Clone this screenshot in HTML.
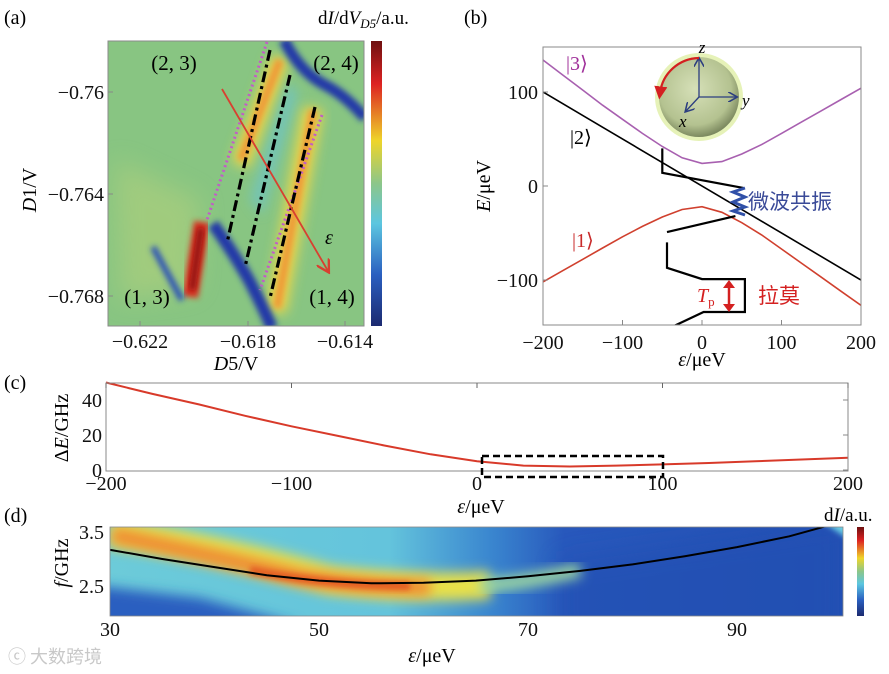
<!DOCTYPE html>
<html><head><meta charset="utf-8">
<style>
html,body{margin:0;padding:0;background:#fff;}
svg{display:block;font-family:"Liberation Serif","Noto Serif CJK SC",serif;}
.tk{font-size:20px;fill:#111;font-family:"Liberation Serif",serif;}
.ax{fill:none;stroke:#8a8a8a;stroke-width:1;}
</style></head>
<body>
<svg id="fig" width="889" height="674" viewBox="0 0 889 674" xmlns="http://www.w3.org/2000/svg">
<defs>
 <filter id="b3" x="-50%" y="-50%" width="200%" height="200%"><feGaussianBlur stdDeviation="3"/></filter>
 <filter id="b6" x="-50%" y="-50%" width="200%" height="200%"><feGaussianBlur stdDeviation="6"/></filter>
 <filter id="b12" x="-50%" y="-50%" width="200%" height="200%"><feGaussianBlur stdDeviation="12"/></filter>
 <clipPath id="clipA"><rect x="108" y="41" width="256" height="285"/></clipPath>
 <clipPath id="clipB"><rect x="543" y="47" width="318" height="278"/></clipPath>
 <clipPath id="clipD"><rect x="110" y="527" width="733" height="89"/></clipPath>
 <linearGradient id="jet" x1="0" y1="0" x2="0" y2="1">
  <stop offset="0" stop-color="#6e1010"/><stop offset="0.15" stop-color="#dd2222"/>
  <stop offset="0.35" stop-color="#eed52a"/><stop offset="0.5" stop-color="#8cc68a"/>
  <stop offset="0.64" stop-color="#5cc6e0"/><stop offset="0.82" stop-color="#2a5fc0"/>
  <stop offset="1" stop-color="#1c2a70"/>
 </linearGradient>
 <radialGradient id="sph" cx="0.45" cy="0.4" r="0.6">
  <stop offset="0" stop-color="#d6e0b8"/><stop offset="0.75" stop-color="#b4c290"/><stop offset="1" stop-color="#7d8a60"/>
 </radialGradient>
 <linearGradient id="dbg" x1="0" y1="0" x2="1" y2="0">
  <stop offset="0" stop-color="#6ccbd9"/><stop offset="0.38" stop-color="#64c4dc"/><stop offset="0.52" stop-color="#3a86cf"/><stop offset="0.62" stop-color="#2858bc"/><stop offset="1" stop-color="#2350b4"/>
 </linearGradient>
 <marker id="arrR" markerWidth="8" markerHeight="8" refX="6" refY="4" orient="auto"><path d="M0,0 L7,4 L0,8" fill="none" stroke="#d84030" stroke-width="1.3"/></marker>
 <marker id="arrN" markerWidth="8" markerHeight="8" refX="6" refY="4" orient="auto"><path d="M0,0 L7,4 L0,8" fill="none" stroke="#2c3e80" stroke-width="1.2"/></marker>
 <marker id="arrT" markerWidth="6" markerHeight="6" refX="3" refY="3" orient="auto"><path d="M0,0 L6,3 L0,6 Z" fill="#d42020"/></marker>
</defs>

<!-- ===== Panel (a) ===== -->
<text x="4" y="24" font-size="20">(a)</text>
<g clip-path="url(#clipA)">
 <rect x="108" y="41" width="256" height="285" fill="#88c582"/>
 <path d="M115,160 L200,200 L195,290 L120,300 Z" fill="#b8d27a" opacity="0.5" filter="url(#b12)"/>
 <path d="M287,80 L250,200 L262,215 L298,95 Z" fill="#6cc4cc" opacity="0.7" filter="url(#b6)"/>
 <path d="M280,58 L240,165" stroke="#ecd84a" stroke-width="18" fill="none" filter="url(#b6)"/>
 <path d="M280,60 L241,160" stroke="#ee9a38" stroke-width="8" fill="none" filter="url(#b3)"/>
 <path d="M313,108 L276,312" stroke="#ecd84a" stroke-width="20" fill="none" filter="url(#b6)"/>
 <path d="M313,110 L277,308" stroke="#ee9a38" stroke-width="8" fill="none" filter="url(#b3)"/>
 <path d="M284,40 Q300,72 325,85 Q345,95 365,118" stroke="#2438a8" stroke-width="11" fill="none" filter="url(#b3)"/>
 <path d="M213,224 Q235,255 250,282 Q262,305 272,328" stroke="#2438a8" stroke-width="12" fill="none" filter="url(#b3)"/>
 <path d="M202,222 L190,297" stroke="#d83020" stroke-width="16" fill="none" filter="url(#b3)"/>
 <path d="M201,228 L192,290" stroke="#8a1010" stroke-width="6" fill="none" filter="url(#b3)"/>
 <path d="M153,247 L182,300" stroke="#2a50b8" stroke-width="6" fill="none" filter="url(#b3)"/>
 <line x1="267" y1="42" x2="207" y2="220" stroke="#c25cc8" stroke-width="3" stroke-dasharray="2,3"/>
 <line x1="322" y1="115" x2="260" y2="290" stroke="#c25cc8" stroke-width="3" stroke-dasharray="2,3"/>
 <g stroke="#000" stroke-width="3.2" stroke-dasharray="11,4,3,4" fill="none">
  <line x1="270" y1="50" x2="227" y2="243"/>
  <line x1="290" y1="75" x2="245" y2="267"/>
  <line x1="315" y1="107" x2="270" y2="298"/>
 </g>
 <line x1="222" y1="89" x2="328" y2="271" stroke="#d84030" stroke-width="1.8" marker-end="url(#arrR)"/>
</g>
<rect x="108" y="41" width="256" height="285" class="ax"/>
<text x="325" y="244" font-size="20" font-style="italic">ε</text>
<g font-size="21" text-anchor="middle">
 <text x="174" y="70">(2, 3)</text><text x="336" y="70">(2, 4)</text>
 <text x="147" y="304">(1, 3)</text><text x="332" y="304">(1, 4)</text>
</g>
<g class="tk" text-anchor="end">
 <text x="104" y="99">−0.76</text><text x="104" y="201">−0.764</text><text x="104" y="303">−0.768</text>
</g>
<g class="tk" text-anchor="middle">
 <text x="140" y="348">−0.622</text><text x="248" y="348">−0.618</text><text x="345" y="348">−0.614</text>
</g>
<g stroke="#888" stroke-width="1">
 <line x1="140" y1="326" x2="140" y2="321"/><line x1="248" y1="326" x2="248" y2="321"/><line x1="345" y1="326" x2="345" y2="321"/>
 <line x1="108" y1="92" x2="113" y2="92"/><line x1="108" y1="194" x2="113" y2="194"/><line x1="108" y1="296" x2="113" y2="296"/>
</g>
<text x="236" y="370" font-size="20" text-anchor="middle"><tspan font-style="italic">D</tspan>5/V</text>
<text transform="translate(36,190) rotate(-90)" font-size="20" text-anchor="middle"><tspan font-style="italic">D</tspan>1/V</text>
<rect x="371" y="41" width="11" height="285" fill="url(#jet)"/>
<text x="318" y="24" font-size="19">d<tspan font-style="italic">I</tspan>/d<tspan font-style="italic">V</tspan><tspan font-style="italic" font-size="13" dy="4">D5</tspan><tspan dy="-4">/a.u.</tspan></text>

<!-- ===== Panel (b) ===== -->
<text x="464" y="24" font-size="20">(b)</text>
<g id="bCurves" clip-path="url(#clipB)"></g>
<rect x="543" y="47" width="318" height="278" class="ax"/>
<g id="bTicks"></g>
<text x="702" y="366" font-size="20" text-anchor="middle"><tspan font-style="italic">ε</tspan>/μeV</text>
<text transform="translate(490,186) rotate(-90)" font-size="20" text-anchor="middle"><tspan font-style="italic">E</tspan>/μeV</text>
<text x="566" y="70" font-size="20" fill="#a0309a">|3⟩</text>
<text x="570" y="144" font-size="20" fill="#000">|2⟩</text>
<text x="572" y="247" font-size="20" fill="#c82a2a">|1⟩</text>
<g>
 <circle cx="699" cy="97" r="44" fill="#e6f2b8"/>
 <circle cx="699" cy="97" r="40" fill="url(#sph)"/>
 <g stroke="#2c3e80" stroke-width="1.3" fill="none">
  <line x1="699" y1="97" x2="699" y2="59" marker-end="url(#arrN)"/>
  <line x1="699" y1="97" x2="736" y2="97" marker-end="url(#arrN)"/>
  <line x1="699" y1="97" x2="686" y2="111" marker-end="url(#arrN)"/>
 </g>
 <path d="M699,58 A40,40 0 0 0 660,93" stroke="#d42020" stroke-width="2.2" fill="none" marker-end="url(#arrT)"/>
 <text x="702" y="53" font-size="17" font-style="italic" text-anchor="middle">z</text>
 <text x="742" y="106" font-size="17" font-style="italic">y</text>
 <text x="679" y="127" font-size="17" font-style="italic">x</text>
</g>
<path d="M745,188 L733,192 L745,197 L733,202 L745,207 L733,211 L745,215" stroke="#3050a8" stroke-width="3" fill="none"/>
<text x="748" y="209" font-size="21" fill="#3a4a98" font-family="'Noto Sans CJK SC',sans-serif">微波共振</text>
<g>
 <line x1="729" y1="286" x2="729" y2="306" stroke="#d42020" stroke-width="2.5"/>
 <path d="M723,288 L729,280 L735,288 Z" fill="#d42020"/>
 <path d="M723,304 L729,312 L735,304 Z" fill="#d42020"/>
</g>
<text x="697" y="302" font-size="20" font-style="italic" fill="#d42020">T<tspan font-size="13" font-style="normal" dy="4">p</tspan></text>
<text x="758" y="303" font-size="21" fill="#d42020" font-family="'Noto Sans CJK SC',sans-serif">拉莫</text>

<!-- ===== Panel (c) ===== -->
<text x="4" y="389" font-size="20">(c)</text>
<g id="cPlot"></g>
<rect x="106" y="383" width="742" height="88" class="ax"/>
<rect x="482" y="456" width="181" height="21" fill="none" stroke="#000" stroke-width="2.5" stroke-dasharray="7,4"/>
<g id="cTicks"></g>
<text x="481" y="513" font-size="20" text-anchor="middle"><tspan font-style="italic">ε</tspan>/μeV</text>
<text transform="translate(68,428) rotate(-90)" font-size="20" text-anchor="middle">Δ<tspan font-style="italic">E</tspan>/GHz</text>

<!-- ===== Panel (d) ===== -->
<text x="4" y="522" font-size="20">(d)</text>
<g clip-path="url(#clipD)">
 <rect x="110" y="527" width="733" height="89" fill="url(#dbg)"/>
 <path d="M90,585 L200,598 L300,625 L90,640 Z" fill="#2a5ec0" filter="url(#b6)"/>
 <path d="M560,560 L843,520 L843,640 L560,640 Z" fill="#2450b2" opacity="0.6" filter="url(#b12)"/>
 <path d="M820,520 L850,520 L850,540 Z" fill="#6cd0e4" filter="url(#b3)"/>
 <path d="M110,533 Q220,548 330,580 Q420,590 490,585" stroke="#e8e048" stroke-width="28" fill="none" filter="url(#b6)"/>
 <path d="M480,586 Q530,582 580,570" stroke="#9ed8a0" stroke-width="14" fill="none" filter="url(#b6)"/>
 <path d="M112,535 Q200,553 300,577 Q370,588 430,587" stroke="#f08a30" stroke-width="16" fill="none" filter="url(#b6)"/>
 <path d="M250,570 Q320,585 410,586" stroke="#e45a24" stroke-width="8" fill="none" filter="url(#b3)"/>
 <g id="dCurve"></g>
</g>
<rect x="110" y="527" width="733" height="89" fill="none" stroke="#888" stroke-width="0.8"/>
<g id="dTicks"></g>
<rect x="857" y="527" width="7" height="89" fill="url(#jet)"/>
<text x="824" y="521" font-size="19">d<tspan font-style="italic">I</tspan>/a.u.</text>
<text x="432" y="662" font-size="20" text-anchor="middle"><tspan font-style="italic">ε</tspan>/μeV</text>
<text transform="translate(68,563) rotate(-90)" font-size="20" text-anchor="middle"><tspan font-style="italic">f</tspan>/GHz</text>
<text x="8" y="663" font-size="18" fill="#c8c8c8" font-family="'Noto Sans CJK SC',sans-serif">ⓒ 大数跨境</text>
</svg>

<script>
// ---- data: panel (b) ----
const bEps = [-200,-175,-150,-125,-100,-75,-50,-25,0,25,50,75,100,125,150,175,200];
const bE3 = [134,118,102,86,71,56,42,30,24,26,34,44,56,68,80,92,104];
const bE1 = [-102,-90,-78,-66,-54,-43,-33,-25,-22,-28,-39,-52,-67,-82,-97,-112,-127];
const bE2eps = [-200,200];
const bE2 = [100,-100];
const pulseA = [[-50,40],[-50,14],[52,-2]];
const pulseB = [[42,-32],[-44,-49]];
const pulseC = [[-44,-60],[-44,-87],[0,-99],[54,-99],[54,-134],[2,-134],[-43,-152]];
const bXTicks = [-200,-100,0,100,200];
const bYTicks = [-100,0,100];
const bTickLabels = ["−200","−100","0","100","200"];
const bYTickLabels = ["−100","0","100"];
// ---- data: panel (c) ----
const cEps = [-200,-175,-150,-125,-100,-75,-50,-25,0,25,50,75,100,125,150,175,200];
const cDE = [50,43.5,37.5,31,25,19.5,14,9,5,2.5,2,2.5,3.2,4,5,6,7];
const cXTicks = [-200,-100,0,100,200];
const cXTickLabels = ["−200","−100","0","100","200"];
const cYTicks = [0,20,40];
// ---- data: panel (d) ----
const dEps = [30,35,40,45,50,55,60,65,70,75,80,85,90,95,98,100];
const dF = [3.17,3.0,2.85,2.7,2.6,2.55,2.56,2.6,2.68,2.78,2.9,3.05,3.22,3.42,3.58,3.7];
const dXTicks = [30,50,70,90];
const dYTicks = [2.5,3.5];

const NS = "http://www.w3.org/2000/svg";
function el(tag, parent){ const e=document.createElementNS(NS,tag); parent.appendChild(e); return e; }
const xb = e => 702 + e*0.795, yb = v => 186 - v*0.94;
const xc = e => 106 + (e+200)*742/400, yc = v => 470 - v*1.75;
const xd = e => 110 + (e-30)*10.45, yd = f => 586 - (f-2.5)*54;
function pathOf(xs, ys, fx, fy){ return xs.map((x,i)=>(i?"L":"M")+fx(x).toFixed(1)+","+fy(ys[i]).toFixed(1)).join(" "); }
function pathPairs(p, fx, fy){ return p.map((q,i)=>(i?"L":"M")+fx(q[0]).toFixed(1)+","+fy(q[1]).toFixed(1)).join(" "); }

const gB = document.getElementById("bCurves");
let p = el("path", gB); p.setAttribute("d", pathOf(bEps,bE3,xb,yb)); p.setAttribute("stroke","#a860b0"); p.setAttribute("stroke-width","1.6"); p.setAttribute("fill","none");


p = el("path", gB); p.setAttribute("d", pathOf(bEps,bE1,xb,yb)); p.setAttribute("stroke","#d0402e"); p.setAttribute("stroke-width","1.6"); p.setAttribute("fill","none");


p = el("path", gB); p.setAttribute("d", pathOf(bE2eps,bE2,xb,yb)); p.setAttribute("stroke","#000"); p.setAttribute("stroke-width","1.6"); p.setAttribute("fill","none");


[pulseA,pulseB,pulseC].forEach((pp,i)=>{
  const q = el("path", gB); q.setAttribute("d", pathPairs(pp,xb,yb)); q.setAttribute("stroke","#000"); q.setAttribute("stroke-width","2.2"); q.setAttribute("fill","none");
  
  
});
const gBT = document.getElementById("bTicks");
bXTicks.forEach((t,i)=>{
  const l = el("line", gBT); l.setAttribute("x1",xb(t)); l.setAttribute("x2",xb(t)); l.setAttribute("y1",325); l.setAttribute("y2",320); l.setAttribute("stroke","#888");
  const tx = el("text", gBT); tx.setAttribute("x",xb(t)); tx.setAttribute("y",349); tx.setAttribute("class","tk"); tx.setAttribute("text-anchor","middle"); tx.textContent = bTickLabels[i];
  
  
});
bYTicks.forEach((t,i)=>{
  const l = el("line", gBT); l.setAttribute("x1",543); l.setAttribute("x2",548); l.setAttribute("y1",yb(t)); l.setAttribute("y2",yb(t)); l.setAttribute("stroke","#888");
  const tx = el("text", gBT); tx.setAttribute("x",538); tx.setAttribute("y",yb(t)+7); tx.setAttribute("class","tk"); tx.setAttribute("text-anchor","end"); tx.textContent = bYTickLabels[i];
  
  
});

const gC = document.getElementById("cPlot");
p = el("path", gC); p.setAttribute("d", pathOf(cEps,cDE,xc,yc)); p.setAttribute("stroke","#d83a2a"); p.setAttribute("stroke-width","2"); p.setAttribute("fill","none");


const gCT = document.getElementById("cTicks");
cXTicks.forEach((t,i)=>{
  const l = el("line", gCT); l.setAttribute("x1",xc(t)); l.setAttribute("x2",xc(t)); l.setAttribute("y1",383); l.setAttribute("y2",388); l.setAttribute("stroke","#666");
  const tx = el("text", gCT); tx.setAttribute("x",xc(t)); tx.setAttribute("y",490); tx.setAttribute("class","tk"); tx.setAttribute("text-anchor","middle"); tx.textContent = cXTickLabels[i];
  
  
});
cYTicks.forEach(t=>{
  const l = el("line", gCT); l.setAttribute("x1",843); l.setAttribute("x2",848); l.setAttribute("y1",yc(t)); l.setAttribute("y2",yc(t)); l.setAttribute("stroke","#888");
  const tx = el("text", gCT); tx.setAttribute("x",102); tx.setAttribute("y",yc(t)+7); tx.setAttribute("class","tk"); tx.setAttribute("text-anchor","end"); tx.textContent = String(t);
  
  
});

const gD = document.getElementById("dCurve");
p = el("path", gD); p.setAttribute("d", pathOf(dEps,dF,xd,yd)); p.setAttribute("stroke","#000"); p.setAttribute("stroke-width","2"); p.setAttribute("fill","none");


const gDT = document.getElementById("dTicks");
dXTicks.forEach(t=>{
  const tx = el("text", gDT); tx.setAttribute("x",xd(t)); tx.setAttribute("y",636); tx.setAttribute("class","tk"); tx.setAttribute("text-anchor","middle"); tx.textContent = String(t);
  
  
});
dYTicks.forEach(t=>{
  const tx = el("text", gDT); tx.setAttribute("x",104); tx.setAttribute("y",yd(t)+7); tx.setAttribute("class","tk"); tx.setAttribute("text-anchor","end"); tx.textContent = t.toFixed(1);
  
  
});
</script>
</body></html>
